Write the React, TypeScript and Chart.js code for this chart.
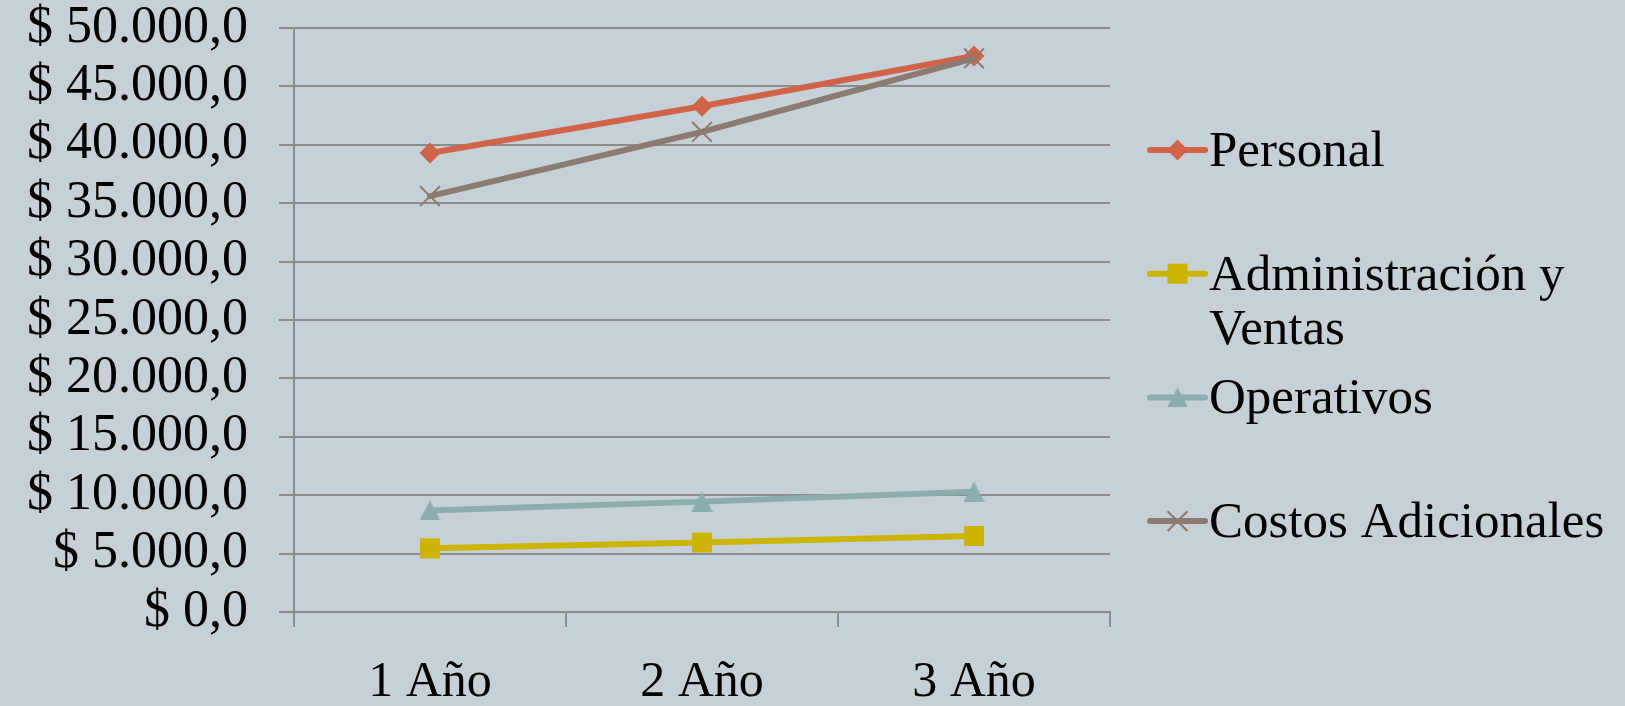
import { useEffect, useRef } from 'react';
import { Chart, registerables } from 'chart.js';

Chart.register(...registerables);

// Categories and series values
const categories = ['1 Año', '2 Año', '3 Año'];
const seriesNames = ['Personal', 'Administración y Ventas', 'Operativos', 'Costos Adicionales'];
const personal = [39300, 43300, 47600];
const adminVentas = [5450, 5950, 6500];
const operativos = [8700, 9450, 10300];
const costosAdicionales = [35600, 41100, 47400];

// Value axis range
const yMin = 0;
const yMax = 50000;
const yStep = 5000;

const seriesValues = [personal, adminVentas, operativos, costosAdicionales];
const seriesColors = ['#D16349', '#CCB400', '#8CADAE', '#8C7B70'];
const seriesPointStyles = ['rectRot', 'rect', 'triangleBox', 'crossRot'];
const seriesPointRadii = [10.5, 14.2, 10, 14];

const BG = '#C5D1D7';
const GRID = '#8C8C8C';
const FONT = "'Liberation Serif', 'Times New Roman', serif";
const LINE_W = 6;

// "$ 50.000,0" style currency labels
const formatMoney = (v: number) =>
  '$ ' + Math.round(v).toString().replace(/\B(?=(\d{3})+(?!\d))/g, '.') + ',0';

// Triangle marker whose bounding box is centred on the point
function makeTriangle(color: string) {
  const c = document.createElement('canvas');
  c.width = 21;
  c.height = 20;
  const g = c.getContext('2d')!;
  g.fillStyle = color;
  g.beginPath();
  g.moveTo(10.5, 0);
  g.lineTo(21, 20);
  g.lineTo(0, 20);
  g.closePath();
  g.fill();
  return c;
}

const backgroundPlugin = {
  id: 'pageBackground',
  beforeDraw(chart: any) {
    const { ctx, width, height } = chart;
    ctx.save();
    ctx.fillStyle = BG;
    ctx.fillRect(0, 0, width, height);
    ctx.restore();
  },
};

function drawMarker(ctx: CanvasRenderingContext2D, style: any, x: number, y: number, r: number, color: string) {
  ctx.save();
  ctx.fillStyle = color;
  ctx.strokeStyle = color;
  ctx.beginPath();
  if (typeof style !== 'string') {
    ctx.drawImage(style, x - style.width / 2, y - style.height / 2);
  } else if (style === 'rectRot') {
    ctx.moveTo(x - r, y);
    ctx.lineTo(x, y - r);
    ctx.lineTo(x + r, y);
    ctx.lineTo(x, y + r);
    ctx.closePath();
    ctx.fill();
  } else if (style === 'rect') {
    const s = Math.SQRT1_2 * r;
    ctx.rect(x - s, y - s, 2 * s, 2 * s);
    ctx.fill();
  } else if (style === 'crossRot') {
    const d = Math.SQRT1_2 * r;
    ctx.lineWidth = 2;
    ctx.moveTo(x - d, y - d);
    ctx.lineTo(x + d, y + d);
    ctx.moveTo(x - d, y + d);
    ctx.lineTo(x + d, y - d);
    ctx.stroke();
  }
  ctx.restore();
}

function wrapText(ctx: CanvasRenderingContext2D, text: string, maxWidth: number) {
  const words = text.split(' ');
  const lines: string[] = [];
  let line = '';
  for (const w of words) {
    const test = line ? line + ' ' + w : w;
    if (line && ctx.measureText(test).width > maxWidth) {
      lines.push(line);
      line = w;
    } else {
      line = test;
    }
  }
  if (line) lines.push(line);
  return lines;
}

// Legend on the right: a short line with the series marker, then the wrapped name
const sideLegendPlugin = {
  id: 'sideLegend',
  afterDraw(chart: any) {
    const { ctx, chartArea, width } = chart;
    const symStart = chartArea.right + 40;
    const symEnd = symStart + 55;
    const textX = symEnd + 4;
    const firstBaseline = chartArea.top + 138;
    const itemStep = 123.7;
    const lineStep = 54;
    ctx.save();
    ctx.font = `51px ${FONT}`;
    ctx.textAlign = 'left';
    ctx.textBaseline = 'alphabetic';
    chart.data.datasets.forEach((ds: any, i: number) => {
      const baseline = firstBaseline + i * itemStep;
      const symY = baseline - 16;
      ctx.save();
      ctx.strokeStyle = ds.borderColor;
      ctx.lineWidth = LINE_W;
      ctx.lineCap = 'round';
      ctx.beginPath();
      ctx.moveTo(symStart, symY);
      ctx.lineTo(symEnd, symY);
      ctx.stroke();
      ctx.restore();
      drawMarker(ctx, ds.pointStyle, (symStart + symEnd) / 2, symY, ds.pointRadius, ds.borderColor);
      ctx.fillStyle = '#000';
      const lines = wrapText(ctx, ds.label, width - textX - 4);
      lines.forEach((ln, k) => ctx.fillText(ln, textX, baseline + k * lineStep));
    });
    ctx.restore();
  },
};

export default function App() {
  const canvasRef = useRef<HTMLCanvasElement>(null);

  useEffect(() => {
    const canvas = canvasRef.current;
    if (!canvas) return;
    const datasets = seriesNames.map((name, i) => {
      const style = seriesPointStyles[i] === 'triangleBox' ? makeTriangle(seriesColors[i]) : seriesPointStyles[i];
      return {
        label: name,
        data: seriesValues[i],
        borderColor: seriesColors[i],
        backgroundColor: seriesColors[i],
        borderWidth: LINE_W,
        borderJoinStyle: 'round' as const,
        borderCapStyle: 'round' as const,
        pointStyle: style,
        pointRadius: seriesPointRadii[i],
        pointHoverRadius: seriesPointRadii[i],
        pointBackgroundColor: seriesColors[i],
        pointBorderColor: seriesColors[i],
        pointBorderWidth: seriesPointStyles[i] === 'crossRot' ? 2 : 0,
        tension: 0,
        fill: false,
        order: seriesNames.length - i,
      };
    });

    const chart = new Chart(canvas, {
      type: 'line',
      data: { labels: categories, datasets: datasets as any },
      plugins: [backgroundPlugin, sideLegendPlugin],
      options: {
        responsive: false,
        devicePixelRatio: 1,
        animation: false,
        events: [],
        layout: { padding: { left: 0, top: 28, right: 515, bottom: 0 } },
        plugins: {
          legend: { display: false },
          tooltip: { enabled: false },
          title: { display: false },
        },
        scales: {
          x: {
            type: 'category',
            offset: true,
            grid: {
              display: true,
              offset: true,
              drawOnChartArea: false,
              drawTicks: true,
              tickLength: 15,
              color: GRID,
              lineWidth: 2,
            },
            border: { display: true, color: GRID, width: 2 },
            ticks: {
              color: '#000',
              font: { family: FONT, size: 50 },
              padding: 26,
              maxRotation: 0,
              autoSkip: false,
            },
            afterFit(scale: any) {
              scale.height = 94;
            },
          },
          y: {
            min: yMin,
            max: yMax,
            grid: { color: GRID, lineWidth: 2, tickLength: 15, drawTicks: true },
            border: { display: true, color: GRID, width: 2 },
            ticks: {
              stepSize: yStep,
              color: '#000',
              font: { family: FONT, size: 52, lineHeight: 1 },
              padding: 31,
              callback: (v: any) => formatMoney(Number(v)),
            },
            afterFit(scale: any) {
              scale.width = 294;
              scale.paddingTop = 0;
              scale.paddingBottom = 0;
            },
          },
        },
      },
    });
    return () => chart.destroy();
  }, []);

  return (
    <div style={{ position: 'fixed', left: 0, top: 0, width: 1625, height: 706, background: BG }}>
      <canvas ref={canvasRef} width={1625} height={706} style={{ display: 'block', width: 1625, height: 706 }} />
    </div>
  );
}
